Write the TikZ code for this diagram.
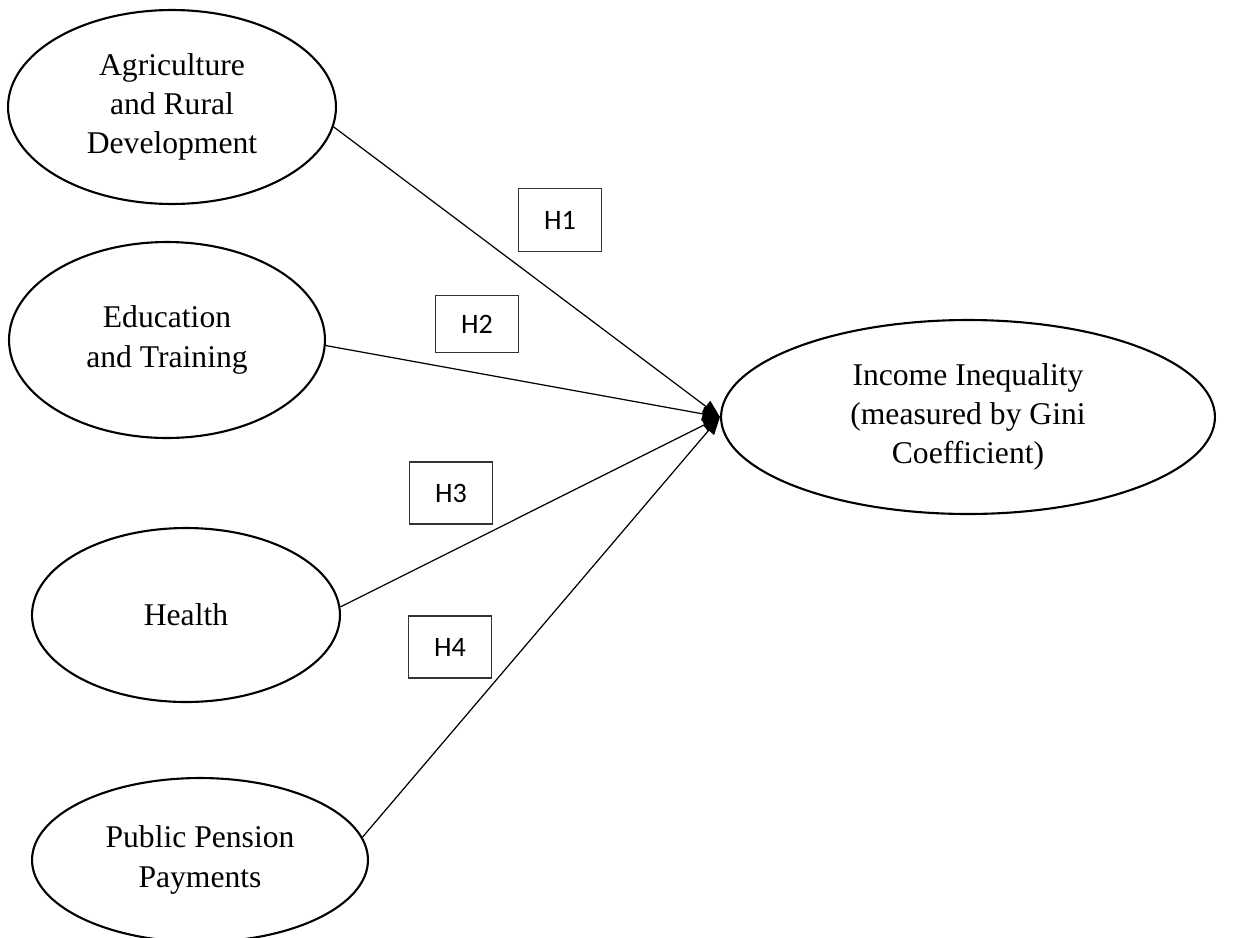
\documentclass[tikz,border=0pt]{standalone}
\usepackage{fontspec}
\setmainfont{Liberation Serif}
\newfontfamily\hypfont{Carlito}
\usetikzlibrary{shapes.geometric}
\usetikzlibrary{arrows.meta}

\begin{document}
\begin{tikzpicture}[x=0.02cm,y=-0.02cm]
\tikzstyle{factor}=[ellipse,draw=black,line width=1.2pt,inner sep=0pt,align=center,font=\fontsize{18}{22.3}\selectfont]
\tikzstyle{hyp}=[rectangle,draw=black!80,line width=0.6pt,minimum width=1.66cm,font=\hypfont\fontsize{16}{19}\selectfont]
\tikzstyle{path}=[draw=black,line width=0.7pt,-{Triangle[length=10pt,width=8pt]}]
\useasboundingbox (0,0) rectangle (1247,937);
% independent variables
\node[factor,minimum width=6.56cm,minimum height=3.88cm] (agri) at (172,107) {Agriculture\\and Rural\\Development};
\node[factor,minimum width=6.32cm,minimum height=3.92cm] (edu) at (167,340) {Education\\and Training};
\node[factor,minimum width=6.16cm,minimum height=3.48cm] (health) at (186,615) {Health};
\node[factor,minimum width=6.72cm,minimum height=3.28cm] (pension) at (200,860) {Public Pension\\Payments};
% dependent variable
\node[factor,minimum width=9.88cm,minimum height=3.88cm] (income) at (968,417) {Income Inequality\\(measured by Gini\\Coefficient)};
% hypotheses
\node[hyp,minimum height=1.26cm] (h1) at (560,220) {H1};
\node[hyp,minimum height=1.14cm] (h2) at (477,324) {H2};
\node[hyp,minimum height=1.24cm] (h3) at (451,493) {H3};
\node[hyp,minimum height=1.24cm] (h4) at (450,647) {H4};
\draw[path] (agri.-7) -- (income.west);
\draw[path] (edu.-2) -- (income.west);
\draw[path] (health.3) -- (income.west);
\draw[path] (pension.8) -- (income.west);
\end{tikzpicture}
\end{document}
